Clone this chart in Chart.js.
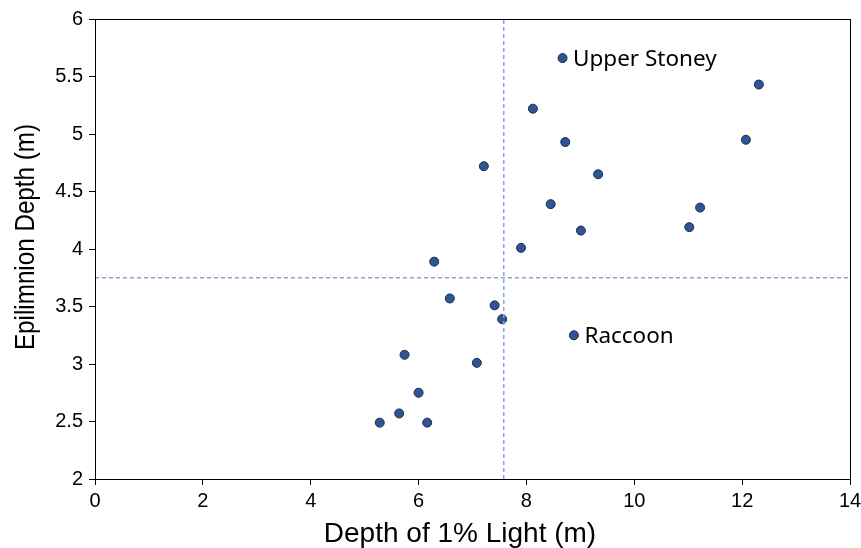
<!DOCTYPE html>
<html>
<head>
<meta charset="utf-8">
<script src="https://cdn.jsdelivr.net/npm/chart.js@4"></script>
<style>
  html, body { margin: 0; padding: 0; background: #fff; }
  #wrap { width: 861px; height: 548px; }
</style>
</head>
<body>
<div id="wrap"><canvas id="myChart" width="861" height="548"></canvas></div>
<script>
// lake data: depth of 1% light (x) vs epilimnion depth (y)
const lightDepth = [8.67, 12.31, 8.12, 8.72, 12.07, 7.21, 9.33, 8.45, 11.22, 11.02, 9.01, 7.90,
                    6.29, 6.58, 7.41, 7.55, 8.88, 5.74, 7.08, 6.00, 5.64, 5.28, 6.16];
const epiDepth   = [5.66, 5.43, 5.22, 4.93, 4.95, 4.72, 4.65, 4.39, 4.36, 4.19, 4.16, 4.01,
                    3.89, 3.57, 3.51, 3.39, 3.25, 3.08, 3.01, 2.75, 2.57, 2.49, 2.49];
const pointNames = ['Upper Stoney', '', '', '', '', '', '', '', '', '', '', '',
                    '', '', '', '', 'Raccoon', '', '', '', '', '', ''];

// mean lines
const meanLight = 7.58;
const meanEpi = 3.75;

const xTicks = [0, 2, 4, 6, 8, 10, 12, 14];
const yTicks = [2, 2.5, 3, 3.5, 4, 4.5, 5, 5.5, 6];

const xTitle = 'Depth of 1% Light (m)';
const yTitle = 'Epilimnion Depth (m)';

const points = lightDepth.map(function(x, i) {
    return { x: x, y: epiDepth[i] };
});

const dashColor = '#86a5dc';

// rahmen um den plotbereich + achsentitel
const boxPlugin = {
    id: 'box',
    afterDraw: function(chart) {
        const a = chart.chartArea;
        const ctx = chart.ctx;
        ctx.save();
        ctx.strokeStyle = '#000';
        ctx.lineWidth = 1;
        ctx.strokeRect(a.left + 0.5, a.top + 0.5, a.right - a.left, a.bottom - a.top);

        ctx.fillStyle = '#000';
        ctx.font = '28px "Liberation Sans", Arial';
        ctx.textAlign = 'center';
        ctx.textBaseline = 'alphabetic';
        ctx.fillText(xTitle, a.left + 365, a.bottom + 63);

        // y-titel etwas schmaler, wie im original
        ctx.translate(34, a.top + 218);
        ctx.rotate(-Math.PI / 2);
        ctx.scale(0.865, 1);
        ctx.fillText(yTitle, 0, 0);
        ctx.restore();
    }
};

// namen neben den punkten
const labelPlugin = {
    id: 'pointNames',
    afterDatasetsDraw: function(chart) {
        const meta = chart.getDatasetMeta(2);
        const ctx = chart.ctx;
        ctx.save();
        ctx.font = '22.5px "Noto Sans"';
        ctx.fillStyle = '#000';
        ctx.textBaseline = 'middle';
        meta.data.forEach(function(pt, i) {
            if (pointNames[i]) {
                ctx.fillText(pointNames[i], pt.x + 10.5, pt.y + 1);
            }
        });
        ctx.restore();
    }
};

const tickFont = { family: 'Liberation Sans, Arial', size: 20 };

new Chart(document.getElementById('myChart'), {
    type: 'scatter',
    data: {
        datasets: [
            {
                type: 'line',
                data: [{ x: meanLight, y: 2 }, { x: meanLight, y: 6 }],
                borderColor: dashColor,
                borderWidth: 1.5,
                borderDash: [4, 3],
                pointRadius: 0
            },
            {
                type: 'line',
                data: [{ x: 0, y: meanEpi }, { x: 14, y: meanEpi }],
                borderColor: dashColor,
                borderWidth: 1.5,
                borderDash: [4, 3],
                pointRadius: 0
            },
            {
                data: points,
                backgroundColor: '#2f5597',
                borderColor: '#1c2a44',
                borderWidth: 1,
                pointRadius: 4.5
            }
        ]
    },
    options: {
        responsive: false,
        animation: false,
        layout: { padding: { top: 19, right: 11, bottom: 0, left: 0 } },
        plugins: {
            legend: { display: false },
            tooltip: { enabled: false }
        },
        scales: {
            x: {
                type: 'linear',
                min: 0,
                max: 14,
                afterFit: function(s) { s.height = 69; s.paddingLeft = 0; s.paddingRight = 0; },
                afterBuildTicks: function(s) { s.ticks = xTicks.map(function(v) { return { value: v }; }); },
                grid: { drawOnChartArea: false, tickLength: 6, color: '#000' },
                border: { color: '#000' },
                ticks: { color: '#000', font: tickFont, padding: 4, maxRotation: 0,
                         callback: function(v) { return String(v); } }
            },
            y: {
                type: 'linear',
                min: 2,
                max: 6,
                afterFit: function(s) { s.width = 95; s.paddingTop = 0; s.paddingBottom = 0; },
                afterBuildTicks: function(s) { s.ticks = yTicks.map(function(v) { return { value: v }; }); },
                grid: { drawOnChartArea: false, tickLength: 6, color: '#000' },
                border: { color: '#000' },
                ticks: { color: '#000', font: tickFont, padding: 6,
                         callback: function(v) { return String(v); } }
            }
        }
    },
    plugins: [boxPlugin, labelPlugin]
});
</script>
</body>
</html>
